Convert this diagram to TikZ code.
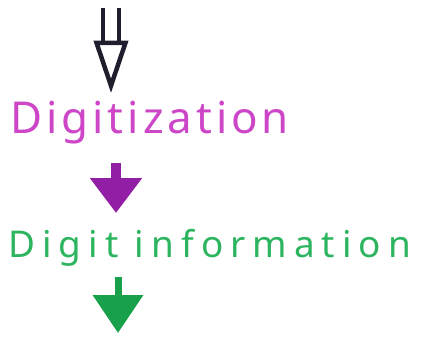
\documentclass[tikz,border=0pt]{standalone}
\usepackage{fontspec}
\setmainfont{Noto Sans}
\usepackage{tikz}
\usetikzlibrary{arrows.meta, positioning, calc}
\definecolor{digpink}{RGB}{205, 70, 200}
\definecolor{digpurple}{RGB}{145, 30, 165}
\definecolor{infogreen}{RGB}{45, 180, 95}
\definecolor{arrowgreen}{RGB}{25, 160, 75}
\definecolor{inkblack}{RGB}{30, 30, 45}

\begin{document}
\begin{tikzpicture}[x=0.02cm, y=-0.02cm,
  label text/.style={inner sep=0pt, anchor=base west},
  flow arrow/.style={line width=0.2cm, -{Triangle[length=0.7cm, width=1cm]}}]
  \useasboundingbox (0,0) rectangle (429,338);
  \node[label text, text=digpink, font=\fontsize{25}{30}\selectfont\addfontfeatures{LetterSpace=9}]
       (dig) at (10,133) {Digitization};
  \node[label text, text=infogreen, font=\fontsize{21}{26}\selectfont\addfontfeatures{LetterSpace=19}]
       (info) at (8,257) {Digit information};
  \coordinate (start) at (111,8);
  \coordinate (finish) at (118,333);
  % input arrow
  \draw[inkblack, double=white, double distance=0.23cm, line width=0.09cm,
        -{Triangle[open, length=1.05cm, width=0.68cm]}] (start) -- ($(dig.base west)+(101,-40)$);
  \draw[flow arrow, digpurple] ($(dig.base west)+(106,30)$) -- ($(info.base west)+(108,-44)$);
  \draw[flow arrow, arrowgreen, line width=0.14cm,
        -{Triangle[length=0.76cm, width=0.98cm]}] ($(info.base west)+(110,20)$) -- (finish);
\end{tikzpicture}
\end{document}
